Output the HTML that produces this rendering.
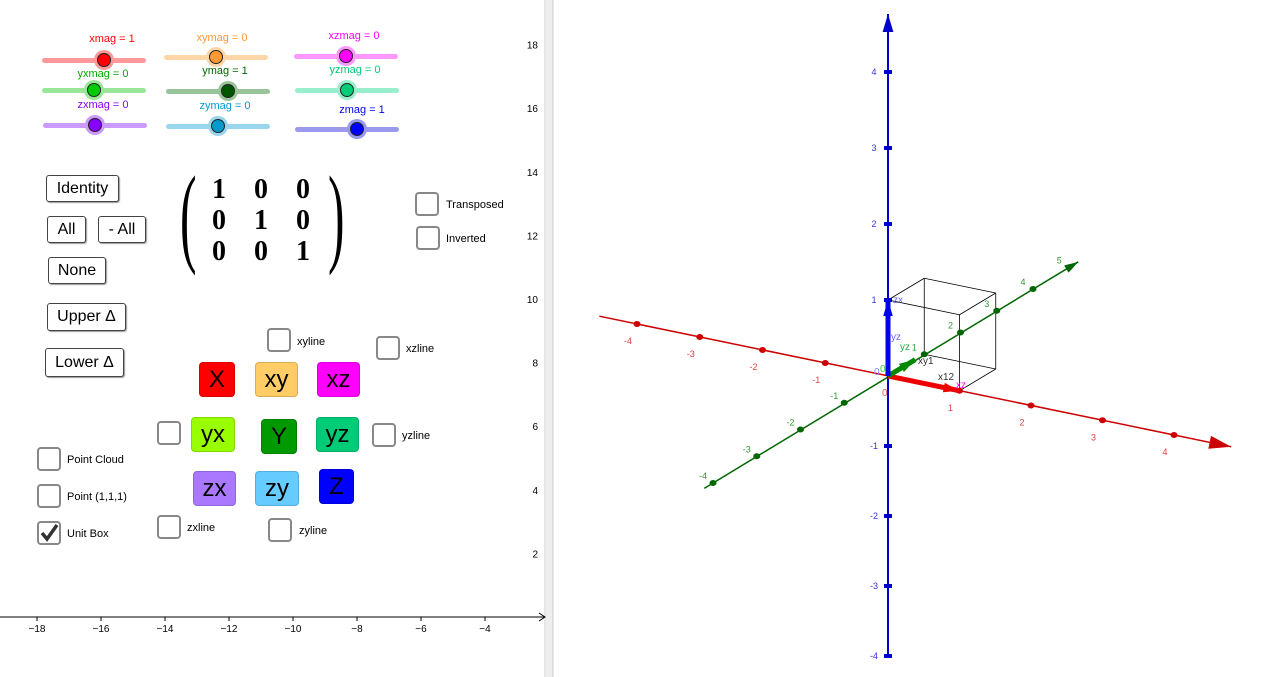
<!DOCTYPE html>
<html><head><meta charset="utf-8"><style>
body{margin:0;width:1280px;height:677px;overflow:hidden;background:#fff;font-family:"Liberation Sans",sans-serif;position:relative}
.abs{position:absolute}
.btn{position:absolute;border:1px solid #444;border-radius:3px;background:#fff;box-shadow:1px 1px 1px #999;font-size:16px;display:flex;align-items:center;justify-content:center;color:#000}
.cb{position:absolute;width:24px;height:24px;border:2px solid #888;border-radius:4px;background:#fff;box-sizing:border-box}
.lbl{position:absolute;font-size:11px;color:#000}
.cbtn{position:absolute;border-radius:4px;font-size:24px;display:flex;align-items:center;justify-content:center;color:#000;box-sizing:border-box;border:1px solid rgba(0,0,0,.15)}
.sl{position:absolute;font-size:11px}
</style></head><body>
<svg class="abs" style="left:0;top:0" width="1280" height="677">
 <rect x="546" y="0" width="7" height="677" fill="#eee"/>
 <line x1="545" y1="0" x2="545" y2="677" stroke="#ccc"/>
 <line x1="553" y1="0" x2="553" y2="677" stroke="#ccc"/>
 <g id="g2d"></g>
 <g id="g3d"></g>
</svg>

<div id="sliders"></div>

<div class="btn" style="left:46px;top:175px;width:71px;height:25px">Identity</div>
<div class="btn" style="left:47px;top:216px;width:37px;height:25px">All</div>
<div class="btn" style="left:98px;top:216px;width:46px;height:25px">- All</div>
<div class="btn" style="left:48px;top:257px;width:56px;height:25px">None</div>
<div class="btn" style="left:47px;top:303px;width:77px;height:26px">Upper Δ</div>
<div class="btn" style="left:45px;top:348px;width:77px;height:27px">Lower Δ</div>

<div class="abs" style="left:180px;top:166px;width:170px;height:108px">
 <div class="abs" style="left:0;top:-14px;font-size:110px;font-family:'Liberation Serif',serif;font-weight:100;transform:scaleX(.45);transform-origin:left top">(</div>
 <div class="abs" style="left:148px;top:-14px;font-size:110px;font-family:'Liberation Serif',serif;font-weight:100;transform:scaleX(.45);transform-origin:left top">)</div>
 <div class="abs" style="left:32px;top:8px;font:bold 28px 'Liberation Serif',serif;line-height:31px;white-space:nowrap"><span style="display:inline-block;width:42px">1</span><span style="display:inline-block;width:42px">0</span>0<br><span style="display:inline-block;width:42px">0</span><span style="display:inline-block;width:42px">1</span>0<br><span style="display:inline-block;width:42px">0</span><span style="display:inline-block;width:42px">0</span>1</div>
</div>

<div class="cb" style="left:415px;top:192px"></div><div class="lbl" style="left:446px;top:199px">Transposed</div>
<div class="cb" style="left:416px;top:226px"></div><div class="lbl" style="left:446px;top:233px">Inverted</div>
<div class="cb" style="left:267px;top:328px"></div><div class="lbl" style="left:297px;top:336px">xyline</div>
<div class="cb" style="left:376px;top:336px"></div><div class="lbl" style="left:406px;top:343px">xzline</div>
<div class="cb" style="left:157px;top:421px"></div>
<div class="cb" style="left:372px;top:423px"></div><div class="lbl" style="left:402px;top:430px">yzline</div>
<div class="cb" style="left:37px;top:447px"></div><div class="lbl" style="left:67px;top:454px">Point Cloud</div>
<div class="cb" style="left:37px;top:484px"></div><div class="lbl" style="left:67px;top:491px">Point (1,1,1)</div>
<div class="cb" style="left:37px;top:521px"><svg width="20" height="20" style="position:absolute;left:0;top:0"><path d="M3 10 L8 16 L18 2" stroke="#333" stroke-width="3.5" fill="none"/></svg></div><div class="lbl" style="left:67px;top:528px">Unit Box</div>
<div class="cb" style="left:157px;top:515px"></div><div class="lbl" style="left:187px;top:522px">zxline</div>
<div class="cb" style="left:268px;top:518px"></div><div class="lbl" style="left:299px;top:525px">zyline</div>

<div class="cbtn" style="left:199px;top:362px;width:36px;height:35px;background:#ff0000">X</div>
<div class="cbtn" style="left:255px;top:362px;width:43px;height:35px;background:#ffcc66">xy</div>
<div class="cbtn" style="left:317px;top:362px;width:43px;height:35px;background:#ff00ff">xz</div>
<div class="cbtn" style="left:191px;top:417px;width:44px;height:35px;background:#99ff00">yx</div>
<div class="cbtn" style="left:261px;top:419px;width:36px;height:35px;background:#009900">Y</div>
<div class="cbtn" style="left:316px;top:417px;width:43px;height:35px;background:#00cc77">yz</div>
<div class="cbtn" style="left:193px;top:471px;width:43px;height:35px;background:#aa77ff">zx</div>
<div class="cbtn" style="left:255px;top:471px;width:44px;height:35px;background:#66ccff">zy</div>
<div class="cbtn" style="left:319px;top:469px;width:35px;height:35px;background:#0000ff">Z</div>

<script>
const NS="http://www.w3.org/2000/svg";
// 2D axis tick values
const xTicks2d=[-18,-16,-14,-12,-10,-8,-6,-4];
const yTicks2d=[2,4,6,8,10,12,14,16,18];
// 3D axis tick values
const xTicks3d=[-4,-3,-2,-1,1,2,3,4];
const yTicks3d=[-4,-3,-2,-1,1,2,3,4,5];
const zTicks3d=[-4,-3,-2,-1,1,2,3,4];
// slider names / values
const sliderNames=["xmag","xymag","xzmag","yxmag","ymag","yzmag","zxmag","zymag","zmag"];
const sliderValues=[1,0,0,0,1,0,0,0,1];

function mk(tag,attrs,parent){const e=document.createElementNS(NS,tag);for(const k in attrs)e.setAttribute(k,attrs[k]);parent.appendChild(e);return e;}
// 2D
const g2=document.getElementById('g2d');
const sx=v=>101+(v+16)*32;
const ax=mk('line',{x1:0,y1:617,x2:544,y2:617,stroke:'#000','stroke-width':1},g2);

mk('path',{d:'M539 613 L545 617 L539 621',stroke:'#000',fill:'none'},g2);
xTicks2d.forEach(v=>{const x=sx(v);mk('line',{x1:x,y1:617,x2:x,y2:621,stroke:'#000'},g2);
 const t=mk('text',{x:x,y:632,'font-size':10,'text-anchor':'middle','font-family':'Liberation Sans'},g2);t.textContent='\u2212'+(-v);
 });
yTicks2d.forEach(v=>{const y=617-v*31.8;
 const t=mk('text',{x:538,y:y+4,'font-size':10,'text-anchor':'end','font-family':'Liberation Sans'},g2);t.textContent=v;
 });

// 3D projection (piecewise to mimic perspective)
const O=[888,376];
function P(x,y,z){
 const xs=x>=0?[71.5,14.75]:[62.75,13];
 const ys=y>=0?[36.25,-21.75]:[43.75,-26.75];
 const zs=z>=0?76:70;
 return [O[0]+x*xs[0]+y*ys[0], O[1]+x*xs[1]+y*ys[1]-z*zs];}
const g3=document.getElementById('g3d');
function seg(a,b,c,w,name){const l=mk('line',{x1:a[0],y1:a[1],x2:b[0],y2:b[1],stroke:c,'stroke-width':w},g3);return l;}
function head(a,b,c,s){const dx=b[0]-a[0],dy=b[1]-a[1],L=Math.hypot(dx,dy),ux=dx/L,uy=dy/L;
 mk('polygon',{points:`${b[0]},${b[1]} ${b[0]-ux*s*2-uy*s*0.6},${b[1]-uy*s*2+ux*s*0.6} ${b[0]-ux*s*2+uy*s*0.6},${b[1]-uy*s*2-ux*s*0.6}`,fill:c},g3);}
const xa=P(-4.6,0,0),xb=P(4.8,0,0);seg(xa,xb,'#cc0000',1.5,'x-axis-3d');head(xa,xb,'#cc0000',11);
const ya=P(0,-4.2,0),yb=P(0,5.25,0);seg(ya,yb,'#006600',1.5,'y-axis-3d');head(ya,yb,'#006600',7);
const za=[888,655],zb=[888,14];seg(za,zb,'#0000cc',2,'z-axis-3d');head(za,zb,'#0000cc',9);
const box=[[0,0,1,0,1,1],[0,0,1,1,0,1],[1,0,1,1,1,1],[0,1,1,1,1,1],[1,0,0,1,0,1],[0,1,0,0,1,1],[1,1,0,1,1,1],[1,0,0,1,1,0],[0,1,0,1,1,0]];
box.forEach(b=>seg(P(b[0],b[1],b[2]),P(b[3],b[4],b[5]),'#000',0.8,'unit-box-edge'));
function tick(p,c,name,label,lx,ly,col){const e=mk('ellipse',{cx:p[0],cy:p[1],rx:3.5,ry:3,fill:c},g3);
 const t=mk('text',{x:p[0]+lx,y:p[1]+ly,'font-size':9,fill:col,'text-anchor':'middle','font-family':'Liberation Sans'},g3);t.textContent=label;}
xTicks3d.forEach(v=>tick(P(v,0,0),'#cc0000','x-tick-3d',v,-9,20,'#e04040'));
yTicks3d.forEach(v=>tick(P(0,v,0),'#006600','y-tick-3d',v,-10,-4,'#339933'));
zTicks3d.forEach(v=>{const p=P(0,0,v);const e=mk('rect',{x:p[0]-4,y:p[1]-2,width:8,height:4,fill:'#0000cc'},g3);
 const t=mk('text',{x:p[0]-14,y:p[1]+3,'font-size':9,fill:'#3333dd','text-anchor':'middle','font-family':'Liberation Sans'},g3);t.textContent=v;});
function vec(to,c,w,name){const a=P(0,0,0),b=P(...to);seg(a,b,c,w,name);head(a,b,c,8);}
vec([1,0,0],'#ee0000',5,'x-vector');vec([0,0.75,0],'#008800',5,'y-vector');vec([0,0,1],'#0000ee',5,'z-vector');
[['0',-8,-4,'#3c3'],['0',-14,-1,'#88f'],['0',-6,20,'#e55'],['yz',12,-26,'#2a4'],['xz',68,12,'#f0f'],['yz',3,-36,'#66f'],['zx',5,-73,'#66f'],['xy1',30,-12,'#333'],['x12',50,4,'#333']]
 .forEach(a=>{const t=mk('text',{x:O[0]+a[1],y:O[1]+a[2],'font-size':10,fill:a[3],'font-family':'Liberation Sans'},g3);t.textContent=a[0];});

const sl=document.getElementById('sliders');
const cfg=[[42,60,104,'#ff9999','#ff0000','#ff0000',112,40],[164,57,216,'#ffd6a8','#ff9933','#ff9933',222,39],[294,56,346,'#ff99ff','#ff00ff','#ff00ff',354,37],
[42,90,95,'#99e699','#00cc00','#00aa00',103,75],[166,91,228,'#99c499','#005500','#006600',225,72],[295,90,347,'#99eecc','#00cc77','#00cc77',355,71],
[43,125,96,'#cc99ff','#8800ff','#8800ff',103,106],[166,126,218,'#99d6ee','#0099cc','#0099cc',225,107],[295,129,357,'#9999ee','#0000ff','#0000ff',362,111]];
cfg.forEach((c,i)=>{
 const d=document.createElement('div');d.style.cssText=`position:absolute;left:${c[0]}px;top:${c[1]-2}px;width:104px;height:5px;border-radius:3px;background:${c[3]}`;
 
 sl.appendChild(d);
 const k=document.createElement('div');const kx=c[0]+52+sliderValues[i]*(c[2]-c[0]-52);
 k.style.cssText=`position:absolute;left:${kx-7}px;top:${c[1]-7}px;width:12px;height:12px;border-radius:50%;background:${c[4]};border:1px solid #222;box-shadow:0 0 0 3px ${c[3]}`;
 
 sl.appendChild(k);
 const t=document.createElement('div');t.className='sl';t.style.cssText=`left:${c[6]-40}px;top:${c[7]-7}px;width:80px;text-align:center;color:${c[5]}`;
 t.textContent=sliderNames[i]+' = '+sliderValues[i];
 
 sl.appendChild(t);
});
</script>
</body></html>
